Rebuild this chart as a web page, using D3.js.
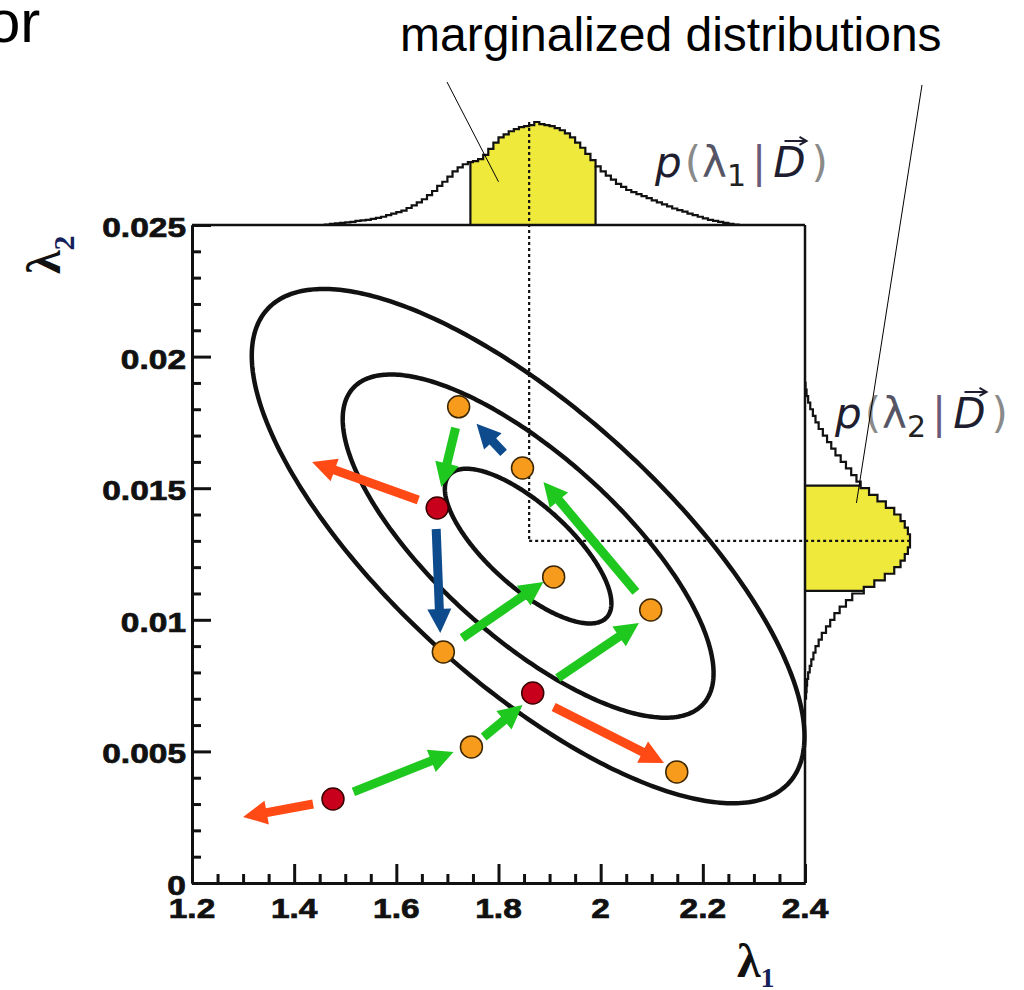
<!DOCTYPE html>
<html><head><meta charset="utf-8">
<script src="https://d3js.org/d3.v7.min.js"></script>
<style>html,body{margin:0;padding:0;background:#fff;} svg{display:block}</style>
</head><body>
<svg id="chart" width="1024" height="990"></svg>
<script>
// ================= DATA =================
const xTicks = [1.2, 1.4, 1.6, 1.8, 2, 2.2, 2.4];
const xTickLabels = ["1.2", "1.4", "1.6", "1.8", "2", "2.2", "2.4"];
const yTicks = [0, 0.005, 0.01, 0.015, 0.02, 0.025];
const yTickLabels = ["0", "0.005", "0.01", "0.015", "0.02", "0.025"];

// sampled points (lambda1, lambda2)
const orangeL1 = [1.722, 1.847, 1.908, 2.098, 1.692, 1.747, 2.149];
const orangeL2 = [0.01809, 0.01577, 0.01163, 0.01037, 0.00878, 0.00517, 0.00422];
const redL1 = [1.680, 1.867, 1.476];
const redL2 = [0.01425, 0.00722, 0.00319];

// arrows: [from l1, from l2, to l1, to l2]
const greenArrows = [
  [1.716, 0.01729, 1.688, 0.01505],
  [1.729, 0.00931, 1.888, 0.01144],
  [2.069, 0.01106, 1.888, 0.01524],
  [1.916, 0.00779, 2.075, 0.00988],
  [1.771, 0.00555, 1.847, 0.00676],
  [1.516, 0.00346, 1.712, 0.00498]
];
const blueArrows = [
  [1.678, 0.01345, 1.686, 0.00950],
  [1.810, 0.01634, 1.757, 0.01745]
];
const redArrows = [
  [1.643, 0.01455, 1.435, 0.01600],
  [1.908, 0.00669, 2.124, 0.00456],
  [1.437, 0.00300, 1.300, 0.00251]
];

// credibility contours (concentric ellipses)
const contourCentre = [1.858, 0.0128];
const contourHalfL1 = [0.163, 0.363, 0.541];
const contourHalfL2 = [0.00294, 0.00652, 0.00977];
const contourRho = -0.74;

// marginal p(lambda1|D): bins of 0.01 starting at 1.46
const l1BinStart = 1.46, l1BinWidth = 0.01;
const l1Density = [
  0.005,0.01,0.015,0.02,0.025,0.03,0.04,0.045,0.05,0.06,
  0.07,0.08,0.095,0.11,0.125,0.14,0.165,0.19,0.22,0.25,
  0.29,0.33,0.38,0.42,0.47,0.52,0.56,0.59,0.61,0.62,
  0.64,0.68,0.74,0.80,0.85,0.88,0.91,0.93,0.95,0.96,
  0.97,1.0,0.98,0.97,0.96,0.94,0.92,0.89,0.85,0.80,
  0.75,0.69,0.63,0.57,0.52,0.48,0.44,0.40,0.37,0.34,
  0.32,0.30,0.28,0.26,0.24,0.22,0.20,0.18,0.16,0.145,
  0.13,0.11,0.095,0.08,0.065,0.05,0.04,0.03,0.02,0.01,
  0.005
];
const l1Band = [1.745, 1.99];
const l1Mode = 1.86;

// marginal p(lambda2|D): bins of 0.00025 starting at 0.0070
const l2BinStart = 0.0070, l2BinWidth = 0.00025;
const l2Density = [
  0.01,0.015,0.02,0.03,0.045,0.06,0.08,0.10,0.13,0.16,
  0.20,0.24,0.28,0.33,0.39,0.45,0.56,0.66,0.76,0.85,
  0.91,0.95,0.98,1.0,1.0,0.98,0.95,0.91,0.85,0.77,
  0.69,0.61,0.53,0.49,0.44,0.39,0.34,0.29,0.25,0.21,
  0.17,0.13,0.10,0.075,0.05,0.03,0.015,0.005
];
const l2Band = [0.0111, 0.0151];
const l2Mode = 0.0130;

// annotation targets inside the yellow bands: [lambda, density]
const annotTop = [1.80, 0.42];
const annotRight = [0.01444, 0.49];

// ================= LAYOUT =================
const svg = d3.select("#chart");
const x = d3.scaleLinear().domain([1.2, 2.4]).range([192, 805]);
const y = d3.scaleLinear().domain([0, 0.025]).range([883, 225]);
const topH = d3.scaleLinear().domain([0, 1]).range([225, 122]);
const rightW = d3.scaleLinear().domain([0, 1]).range([805, 910]);

const BLACK = "#111";
const YELLOW = "#efe93c";

// ---------- marginal histograms ----------
function stepPointsTop() {
  const pts = [[x(l1BinStart), topH(0)]];
  l1Density.forEach((v, i) => {
    const s = l1BinStart + i * l1BinWidth;
    pts.push([x(s), topH(v)], [x(s + l1BinWidth), topH(v)]);
  });
  pts.push([x(l1BinStart + l1Density.length * l1BinWidth), topH(0)]);
  return pts;
}
function stepPointsRight() {
  const pts = [[rightW(0), y(l2BinStart)]];
  l2Density.forEach((v, i) => {
    const s = l2BinStart + i * l2BinWidth;
    pts.push([rightW(v), y(s)], [rightW(v), y(s + l2BinWidth)]);
  });
  pts.push([rightW(0), y(l2BinStart + l2Density.length * l2BinWidth)]);
  return pts;
}
const line = d3.line();
const defs = svg.append("defs");
defs.append("clipPath").attr("id", "clipTop").append("rect")
  .attr("x", x(l1Band[0])).attr("width", x(l1Band[1]) - x(l1Band[0]))
  .attr("y", 0).attr("height", topH(0));
defs.append("clipPath").attr("id", "clipRight").append("rect")
  .attr("x", rightW(0)).attr("width", 300)
  .attr("y", y(l2Band[1])).attr("height", y(l2Band[0]) - y(l2Band[1]));

const topPts = stepPointsTop();
const rightPts = stepPointsRight();
svg.append("path").attr("d", line(topPts) + "Z").attr("fill", YELLOW).attr("clip-path", "url(#clipTop)");
svg.append("path").attr("d", line(rightPts) + "Z").attr("fill", YELLOW).attr("clip-path", "url(#clipRight)");
svg.append("path").attr("d", line(topPts)).attr("fill", "none").attr("stroke", BLACK).attr("stroke-width", 2.2);
svg.append("path").attr("d", line(rightPts)).attr("fill", "none").attr("stroke", BLACK).attr("stroke-width", 2.2);

// band edge lines
l1Band.forEach(b => {
  const v = l1Density[Math.floor((b - l1BinStart) / l1BinWidth)];
  svg.append("line").attr("x1", x(b)).attr("x2", x(b)).attr("y1", topH(0)).attr("y2", topH(v))
    .attr("stroke", BLACK).attr("stroke-width", 2.2);
});
l2Band.forEach(b => {
  const v = l2Density[Math.floor((b - l2BinStart) / l2BinWidth)];
  svg.append("line").attr("y1", y(b)).attr("y2", y(b)).attr("x1", rightW(0)).attr("x2", rightW(v))
    .attr("stroke", BLACK).attr("stroke-width", 2.2);
});

// ---------- frame & axes ----------
svg.append("line").attr("x1", x(1.2)).attr("x2", x(2.4)).attr("y1", y(0.025)).attr("y2", y(0.025))
  .attr("stroke", BLACK).attr("stroke-width", 2.5);
svg.append("line").attr("x1", x(2.4)).attr("x2", x(2.4)).attr("y1", y(0.025)).attr("y2", y(0))
  .attr("stroke", BLACK).attr("stroke-width", 2.5);

function styleAxis(g) {
  g.select(".domain").attr("stroke", BLACK).attr("stroke-width", 3);
  g.selectAll(".tick line").attr("stroke", BLACK).attr("stroke-width", 3);
  g.selectAll(".tick text").remove();
}
const xMinor = x.ticks(24).filter(v => !xTicks.some(t => Math.abs(t - v) < 1e-9));
const yMinor = y.ticks(25).filter(v => !yTicks.some(t => Math.abs(t - v) < 1e-9));
svg.append("g").attr("transform", `translate(0,${y(0)})`)
  .call(d3.axisBottom(x).tickValues(xMinor).tickSize(-9).tickSizeOuter(0).tickFormat(""))
  .call(styleAxis);
svg.append("g").attr("transform", `translate(0,${y(0)})`)
  .call(d3.axisBottom(x).tickValues(xTicks).tickSize(-19).tickSizeOuter(0).tickFormat(""))
  .call(styleAxis);
svg.append("g").attr("transform", `translate(${x(1.2)},0)`)
  .call(d3.axisLeft(y).tickValues(yMinor).tickSize(-9).tickSizeOuter(0).tickFormat(""))
  .call(styleAxis);
svg.append("g").attr("transform", `translate(${x(1.2)},0)`)
  .call(d3.axisLeft(y).tickValues(yTicks).tickSize(-19).tickSizeOuter(0).tickFormat(""))
  .call(styleAxis);

// tick labels (bold, horizontally stretched like the original)
const STRETCH = 1.24;
svg.selectAll(".xlab").data(xTicks).enter().append("text")
  .attr("transform", d => `translate(${x(d)},${y(0) + 35}) scale(${STRETCH},1)`)
  .attr("text-anchor", "middle").attr("font-family", "Liberation Sans, Arial, sans-serif")
  .attr("font-weight", "bold").attr("font-size", 27).attr("fill", BLACK)
  .attr("stroke", BLACK).attr("stroke-width", 0.7)
  .text((d, i) => xTickLabels[i]);
svg.selectAll(".ylab").data(yTicks).enter().append("text")
  .attr("transform", d => `translate(${x(1.2) - 6},${y(d) + 12}) scale(${STRETCH},1)`)
  .attr("text-anchor", "end").attr("font-family", "Liberation Sans, Arial, sans-serif")
  .attr("font-weight", "bold").attr("font-size", 27).attr("fill", BLACK)
  .attr("stroke", BLACK).attr("stroke-width", 0.7)
  .text((d, i) => yTickLabels[i]);

// axis titles
const tx = svg.append("text").attr("transform", "translate(737,977)")
  .attr("font-family", "Liberation Serif, serif").attr("font-weight", "bold").attr("font-size", 48).attr("fill", BLACK);
tx.append("tspan").text("λ");
tx.append("tspan").attr("font-size", 28).attr("dy", 10).attr("fill", "#14205a").text("1");
const ty = svg.append("text").attr("transform", "translate(60,274) rotate(-90)")
  .attr("font-family", "Liberation Serif, serif").attr("font-weight", "bold").attr("font-size", 48).attr("fill", BLACK);
ty.append("tspan").text("λ");
ty.append("tspan").attr("font-size", 30).attr("dy", 14).attr("fill", "#14205a").text("2");

// ---------- contours ----------
const theta = d3.range(0, 2 * Math.PI + 0.001, Math.PI / 180);
contourHalfL1.forEach((a, k) => {
  const b = contourHalfL2[k];
  const s = Math.sqrt(1 - contourRho * contourRho);
  const pts = theta.map(t => [
    x(contourCentre[0] + a * Math.cos(t)),
    y(contourCentre[1] + b * (contourRho * Math.cos(t) + s * Math.sin(t)))
  ]);
  svg.append("path").attr("d", line(pts) + "Z").attr("fill", "none")
    .attr("stroke", BLACK).attr("stroke-width", 4.5);
});

// ---------- dotted mode lines ----------
const l1ModeDensity = d3.max(l1Density), l2ModeDensity = d3.max(l2Density);
svg.append("line").attr("x1", x(l1Mode)).attr("x2", x(l1Mode))
  .attr("y1", topH(l1ModeDensity)).attr("y2", y(l2Mode))
  .attr("stroke", BLACK).attr("stroke-width", 2.2).attr("stroke-dasharray", "3,3");
svg.append("line").attr("x1", x(l1Mode)).attr("x2", rightW(l2ModeDensity))
  .attr("y1", y(l2Mode)).attr("y2", y(l2Mode))
  .attr("stroke", BLACK).attr("stroke-width", 2.2).attr("stroke-dasharray", "3,3");

// ---------- arrows ----------
function arrowPath(a) {
  const p0 = [x(a[0]), y(a[1])], p1 = [x(a[2]), y(a[3])];
  const dx = p1[0] - p0[0], dy = p1[1] - p0[1], len = Math.hypot(dx, dy);
  const ux = dx / len, uy = dy / len, nx = -uy, ny = ux;
  const w = 4.5, L = 24, H = 12;
  const bx = p1[0] - ux * L, by = p1[1] - uy * L;
  return line([
    [p0[0] + nx * w, p0[1] + ny * w], [bx + nx * w, by + ny * w], [bx + nx * H, by + ny * H],
    p1, [bx - nx * H, by - ny * H], [bx - nx * w, by - ny * w], [p0[0] - nx * w, p0[1] - ny * w]
  ]) + "Z";
}
[[greenArrows, "#1fc81f"], [blueArrows, "#0d4b8c"], [redArrows, "#ff4a16"]].forEach(([arr, col]) => {
  svg.selectAll(null).data(arr).enter().append("path")
    .attr("d", arrowPath).attr("fill", col);
});

// ---------- points ----------
svg.selectAll(null).data(orangeL1).enter().append("circle")
  .attr("cx", d => x(d)).attr("cy", (d, i) => y(orangeL2[i])).attr("r", 11)
  .attr("fill", "#f79b1c").attr("stroke", "#3a2600").attr("stroke-width", 1.5);
svg.selectAll(null).data(redL1).enter().append("circle")
  .attr("cx", d => x(d)).attr("cy", (d, i) => y(redL2[i])).attr("r", 11)
  .attr("fill", "#c8001c").attr("stroke", "#3a0000").attr("stroke-width", 1.5);

// ---------- p(lambda|D) labels ----------
function pLabel(px, py, sub) {
  const fs = 42;
  const t = svg.append("text").attr("x", px).attr("y", py)
    .attr("font-family", "DejaVu Sans, sans-serif").attr("font-size", fs);
  t.append("tspan").attr("font-style", "italic").attr("fill", "#1e1e30").text("p");
  t.append("tspan").attr("fill", "#8a8a8a").attr("dx", 3).text("(");
  t.append("tspan").attr("fill", "#555566").attr("dx", 1).text("λ");
  t.append("tspan").attr("font-size", 30).attr("dy", 9).attr("fill", "#222").text(sub);
  t.append("tspan").attr("dy", -9).attr("dx", 6).attr("fill", "#6a5a7a").text("|");
  t.append("tspan").attr("font-style", "italic").attr("dx", 7).attr("fill", "#1e1e30").text("D");
  t.append("tspan").attr("fill", "#8a8a8a").attr("dx", 6).text(")");
  const e = t.node().getExtentOfChar(5);
  const ay = py - 0.86 * fs, ax1 = e.x + 0.35 * e.width, ax2 = e.x + e.width + 1;
  svg.append("path")
    .attr("d", `M${ax1},${ay}L${ax2},${ay}M${ax2 - 7},${ay - 4}L${ax2},${ay}L${ax2 - 7},${ay + 4}`)
    .attr("fill", "none").attr("stroke", "#1e1e30").attr("stroke-width", 2);
}
pLabel(655, 177, "1");
pLabel(835, 428, "2");

// ---------- slide text & annotation ----------
svg.append("text").attr("x", -13).attr("y", 42)
  .attr("font-family", "Liberation Sans, Arial, sans-serif").attr("font-size", 60).attr("fill", "#000").text("or");
svg.append("text").attr("x", 400).attr("y", 51)
  .attr("font-family", "Liberation Sans, Arial, sans-serif").attr("font-size", 48).attr("fill", "#000")
  .text("marginalized distributions");
svg.append("line").attr("x1", 447).attr("y1", 82).attr("x2", x(annotTop[0])).attr("y2", topH(annotTop[1]))
  .attr("stroke", "#000").attr("stroke-width", 1);
svg.append("line").attr("x1", 922).attr("y1", 85).attr("x2", rightW(annotRight[1])).attr("y2", y(annotRight[0]))
  .attr("stroke", "#000").attr("stroke-width", 1);
</script>
</body></html>
